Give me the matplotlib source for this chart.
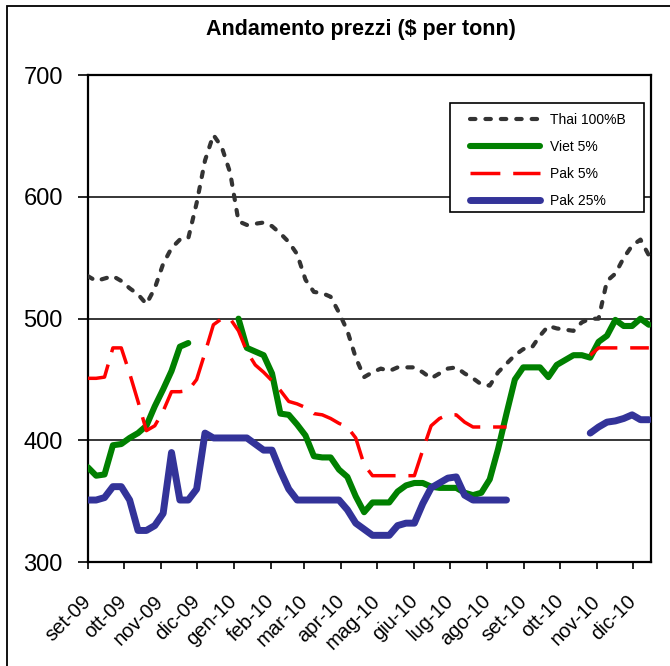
"""Andamento prezzi riso - ricostruzione grafico."""

import numpy as np
import pandas as pd
import matplotlib

matplotlib.use("Agg")
import matplotlib.pyplot as plt

plt.rcParams["font.family"] = ["Liberation Sans", "DejaVu Sans"]

nan = np.nan

# Dati settimanali (da set-09 a dic-10)
weeks = pd.date_range("2009-09-01", periods=68, freq="7D")

thai = [535, 531, 533, 535, 531, 525, 520, 512, 525, 545,
        558, 565, 566, 595, 630, 651, 641, 620, 580, 577,
        578, 579, 576, 570, 563, 553, 532, 522, 521, 518,
        505, 490, 468, 452, 456, 459, 457, 460, 460, 460,
        456, 451, 455, 459, 460, 455, 451, 446, 445, 456,
        463, 470, 475, 476, 486, 494, 492, 491, 490, 497,
        500, 500, 531, 537, 550, 560, 565, 552]

viet = [378, 371, 372, 396, 397, 402, 406, 412, 428, 442,
        457, 477, 480, nan, nan, nan, nan, nan, 500, 476,
        473, 470, 455, 422, 421, 413, 404, 387, 386, 386,
        376, 370, 354, 341, 349, 349, 349, 358, 363, 365,
        365, 362, 361, 361, 361, 357, 355, 357, 368, 393,
        422, 450, 460, 460, 460, 452, 462, 466, 470, 470,
        468, 481, 486, 499, 494, 494, 500, 495]

pak5 = [451, 451, 452, 476, 476, 455, 432, 408, 412, 424,
        440, 440, 441, 450, 472, 495, 500, 500, 490, 473,
        462, 456, 449, 441, 432, 430, 427, 422, 421, 418,
        414, 411, 402, 380, 371, 371, 371, 371, 371, 371,
        392, 412, 418, 421, 421, 415, 411, 411, 411, 411,
        411, nan, nan, nan, nan, nan, nan, nan, nan, nan,
        470, 476, 476, 476, 476, 476, 476, 476]

pak25 = [351, 351, 353, 362, 362, 351, 326, 326, 330, 340,
         390, 351, 351, 360, 406, 402, 402, 402, 402, 402,
         397, 392, 392, 375, 360, 351, 351, 351, 351, 351,
         351, 343, 332, 327, 322, 322, 322, 330, 332, 332,
         348, 361, 365, 369, 370, 355, 351, 351, 351, 351,
         351, nan, nan, nan, nan, nan, nan, nan, nan, nan,
         406, 411, 415, 416, 418, 421, 417, 417]

month_ticks = pd.date_range("2009-09-01", "2010-12-01", freq="MS")
month_labels = ["set-09", "ott-09", "nov-09", "dic-09", "gen-10", "feb-10",
                "mar-10", "apr-10", "mag-10", "giu-10", "lug-10", "ago-10",
                "set-10", "ott-10", "nov-10", "dic-10"]

fig = plt.figure(figsize=(6.70, 6.66), dpi=100)
ax = fig.add_axes([0.131, 0.156, 0.841, 0.731])

ax.plot(weeks, thai, color="#333333", lw=3, dashes=(1.3, 2.4),
        dash_capstyle="round", label="Thai 100%B", zorder=3)
ax.plot(weeks, viet, color="#008000", lw=4.4, solid_joinstyle="round",
        solid_capstyle="round", label="Viet 5%", zorder=4)
ax.plot(weeks, pak5, color="#FF0000", lw=2.5, dashes=(8.6, 3.7),
        label="Pak 5%", zorder=5)
ax.plot(weeks, pak25, color="#333399", lw=5, solid_joinstyle="round",
        solid_capstyle="round", label="Pak 25%", zorder=4)

ax.set_ylim(300, 700)
ax.set_yticks([300, 400, 500, 600, 700])
ax.set_xlim(pd.Timestamp("2009-09-01"), pd.Timestamp("2010-12-16"))
ax.set_xticks(month_ticks)
ax.set_xticklabels(month_labels, rotation=45, ha="right", va="center",
                   rotation_mode="anchor", fontsize=14.5)
ax.tick_params(axis="y", labelsize=17, length=7, width=1.2, direction="out", pad=11)
ax.tick_params(axis="x", length=5, width=1.2, direction="out", pad=21)

for y in [400, 500, 600]:
    ax.axhline(y, color="black", lw=1.1, zorder=1)
for s in ax.spines.values():
    s.set_color("black")
    s.set_linewidth(1.6)

# legenda: cornice disegnata a parte
ax.add_patch(plt.Rectangle((0.643, 0.7187), 0.3446, 0.2238, transform=ax.transAxes,
                           facecolor="white", edgecolor="black", lw=1.2, zorder=6))
leg = ax.legend(loc="upper left", bbox_to_anchor=(0.6785, 0.922),
                borderaxespad=0, borderpad=0, fontsize=10, handlelength=5.0,
                handletextpad=0.75, labelspacing=0.92, frameon=False)
leg.set_zorder(7)

fig.text(361 / 670, 1 - 30 / 666, "Andamento prezzi ($ per tonn)",
         ha="center", va="center", fontsize=15.5, fontweight="bold")

# bordo esterno del grafico
fig.add_artist(plt.Rectangle((7 / 670, -0.1), 1.5, 1 - 6 / 666 + 0.1,
                             transform=fig.transFigure, fill=False,
                             edgecolor="black", lw=1.3))

fig.savefig("out.png", dpi=100)
plt.close(fig)
